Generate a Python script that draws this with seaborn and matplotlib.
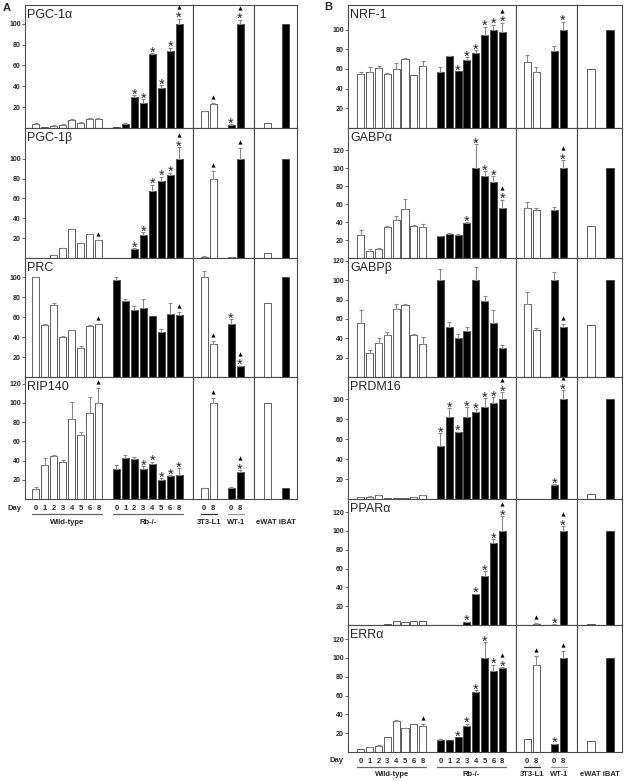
import matplotlib
matplotlib.use("Agg")
import matplotlib.pyplot as plt
import matplotlib.transforms as mtransforms
import numpy as np
import pandas as pd
import seaborn as sns

# bar order in every panel:
# Wild-type d0..d8 (8), Rb-/- d0..d8 (8), 3T3-L1 d0/d8, WT-1 d0/d8, eWAT, iBAT
DAYS = ["0", "1", "2", "3", "4", "5", "6", "8"]
CELL_DAYS = ["0", "8", "0", "8"]
TISSUES = ["eWAT", "iBAT"]

# significance marks: s = star, t = triangle
PGC1A = [4, 1, 2, 3, 8, 5, 9, 9, 1, 4, 30, 24, 71, 38, 74, 100, 16, 23, 3, 100, 5, 100]
PGC1A_ERR = [1, 0, 0.5, 0.5, 0.5, 1, 0.5, 0.5, 0, 0.5, 1.5, 4, 0.5, 3, 3, 5, 0.5, 1, 0.5, 4, 0, 0]
PGC1A_SIG = [""] * 8 + ["", "", "s", "s", "s", "s", "s", "st"] + ["", "t", "s", "st", "", ""]

PGC1B = [0.3, 0.5, 3, 10, 29, 15, 24, 18, 0.2, 0.2, 9, 23, 68, 78, 84, 100, 1.5, 80, 1, 100, 5, 100]
PGC1B_ERR = [0, 0, 0.5, 0.5, 0.5, 0.5, 0.5, 0.5, 0, 0, 1, 3, 6, 4, 2, 12, 0.5, 8, 0.5, 11, 0, 0]
PGC1B_SIG = [""] * 7 + ["t"] + ["", "", "s", "s", "s", "s", "s", "st"] + ["", "t", "", "t", "", ""]

PRC = [100, 52, 72, 40, 47, 29, 51, 53, 97, 76, 67, 69, 61, 45, 63, 62, 100, 33, 53, 11, 74, 100]
PRC_ERR = [0.5, 1, 2, 1, 0.5, 2, 1, 0.5, 3, 2, 4, 9, 0, 3, 11, 3, 6, 3, 5, 0.5, 0, 0]
PRC_SIG = [""] * 7 + ["t"] + [""] * 7 + ["t"] + ["", "t", "s", "st", "", ""]

RIP140 = [10, 35, 45, 39, 83, 67, 90, 100, 31, 43, 42, 31, 36, 20, 24, 25, 11, 100, 11, 28, 100, 11]
RIP140_ERR = [2, 8, 1, 2, 18, 3, 16, 16, 4, 3, 2, 3, 3, 1.5, 0.5, 7, 0.5, 5, 1, 2, 0, 0]
RIP140_SIG = [""] * 7 + ["t"] + ["", "", "", "s", "s", "s", "s", "s"] + ["", "t", "", "st", "", ""]

NRF1 = [55, 57, 61, 55, 60, 70, 54, 63, 57, 73, 58, 69, 76, 95, 100, 98, 67, 57, 78, 100, 60, 100]
NRF1_ERR = [2, 5, 2, 1, 6, 1, 0, 5, 5, 0.5, 0, 3, 3, 8, 5, 9, 7, 5, 5, 8, 0, 0]
NRF1_SIG = [""] * 8 + ["", "", "s", "s", "s", "s", "s", "st"] + ["", "", "", "s", "", ""]

GABPA = [26, 8, 10, 35, 42, 55, 36, 35, 24, 27, 26, 39, 100, 92, 85, 56, 56, 54, 54, 100, 36, 100]
GABPA_ERR = [5, 2, 1, 1, 5, 11, 1, 3, 0.5, 0.5, 0.5, 1, 27, 5, 6, 9, 6, 2, 3, 9, 0, 0]
GABPA_SIG = [""] * 8 + ["", "", "", "s", "s", "s", "s", "st"] + ["", "", "", "st", "", ""]

GABPB = [56, 25, 35, 43, 70, 74, 43, 34, 100, 52, 40, 48, 100, 79, 56, 30, 75, 49, 100, 52, 54, 100]
GABPB_ERR = [13, 3, 5, 4, 5, 1, 1, 7, 12, 5, 4, 4, 14, 5, 13, 3, 13, 2, 9, 3, 0, 0]
GABPB_SIG = [""] * 16 + ["", "", "", "t", "", ""]

PRDM16 = [2, 2.5, 4, 1, 1.5, 1, 2, 4, 53, 82, 67, 82, 87, 92, 96, 100, 0.3, 0.3, 14, 100, 5, 100]
PRDM16_ERR = [0.3, 0.3, 0.5, 0, 0, 0, 0.3, 0.5, 13, 9, 0.5, 10, 3, 9, 6, 7, 0, 0, 1, 9, 0, 0]
PRDM16_SIG = [""] * 8 + ["s"] * 7 + ["st"] + ["", "", "s", "st", "", ""]

PPARA = [0.2, 0.2, 0.3, 1, 4, 3, 4, 4, 0, 0, 0.5, 3, 33, 52, 87, 100, 0.3, 1.5, 0.5, 100, 1.5, 100]
PPARA_ERR = [0] * 8 + [0, 0, 0, 0.5, 0.5, 5, 4, 16, 0, 0.5, 0.3, 5, 0, 0]
PPARA_SIG = [""] * 8 + ["", "", "", "s", "s", "s", "s", "st"] + ["", "t", "s", "st", "", ""]

ERRA = [3, 5, 6, 16, 33, 25, 30, 28, 13, 13, 16, 28, 64, 100, 86, 89, 14, 92, 8, 100, 12, 100]
ERRA_ERR = [0, 0.5, 1.5, 0, 0.5, 0.5, 0, 2, 0.5, 0, 0, 2, 2, 17, 7, 1, 0, 10, 1, 7, 0, 0]
ERRA_SIG = [""] * 7 + ["t"] + ["", "", "s", "s", "s", "s", "s", "st"] + ["", "t", "s", "t", "", ""]

W, H = 625, 781
FILL = {"w": "white", "k": "black"}
MAIN_X = list(range(8)) + list(range(9, 17))
CELL_X = [0, 1, 3, 4]
TISSUE_X = [0, 2]

sns.set_theme(style="ticks")
plt.rcParams["font.family"] = ["Liberation Sans", "DejaVu Sans"]

fig = plt.figure(figsize=(W / 100, H / 100), dpi=100)


def px_rect(l, t, r, b):
    return [l / W, 1 - b / H, (r - l) / W, (b - t) / H]


def bars(ax, x, vals, errs, sig, fills, width):
    df = pd.DataFrame({"x": x, "y": vals, "fill": fills})
    sns.barplot(data=df, x="x", y="y", hue="fill", palette=FILL, native_scale=True,
                dodge=False, width=width, saturation=1, errorbar=None, legend=False,
                edgecolor="#444444", linewidth=0.6, ax=ax)
    x = np.asarray(x, float)
    vals = np.asarray(vals, float)
    errs = np.asarray(errs, float)
    has = errs > 0
    ax.errorbar(x[has], vals[has], yerr=[np.zeros(has.sum()), errs[has]], fmt="none",
                ecolor="#8a8a8a", elinewidth=0.8, capsize=1.6, capthick=0.8, zorder=3)
    for xi, v, e, s in zip(x, vals, errs, sig):
        top = v + e
        off = 6
        if "s" in s:
            ax.annotate("*", (xi, top), xytext=(0, -3.5), textcoords="offset pixels",
                        ha="center", va="baseline", fontsize=10.5, annotation_clip=False)
            off = 12
        if "t" in s:
            tr = mtransforms.offset_copy(ax.transData, fig=fig, x=0, y=off, units="dots")
            ax.plot([xi], [top], marker="^", ms=3, color="black", mew=0,
                    transform=tr, clip_on=False)


def frame(ax, ymax, yticks=None):
    ax.set_xlabel("")
    ax.set_ylabel("")
    ax.set_ylim(0, ymax)
    ax.set_facecolor("white")
    for sp in ax.spines.values():
        sp.set_visible(True)
        sp.set_color("#4a4a4a")
        sp.set_linewidth(0.8)
    ax.set_xticks([])
    if yticks is None:
        ax.set_yticks([])
    else:
        ax.set_yticks(yticks)
        ax.set_yticklabels([str(t) for t in yticks], fontsize=5, fontweight="bold")
        ax.tick_params(axis="y", length=2, width=0.6, color="#555555", pad=1)


def label_below(ax, x, text, dy, **kw):
    ax.annotate(text, xy=(x, 0), xycoords=("data", "axes fraction"), xytext=(0, -dy),
                textcoords="offset pixels", ha="center", va="center",
                fontsize=5.5, fontweight="bold", annotation_clip=False, **kw)


def underline(ax, x0, x1, dy, color="#666666"):
    tr = mtransforms.offset_copy(ax.get_xaxis_transform(), fig=fig, x=0, y=-dy, units="dots")
    ax.plot([x0, x1], [0, 0], color=color, lw=0.9, transform=tr, clip_on=False)


def panel(rows, cols, main_xlim, letter, letter_xy):
    l, c1, c2, r = cols
    n = len(rows)
    for i, (title, vals, errs, sig, ymax, yticks, top, bot) in enumerate(rows):
        ax_m = fig.add_axes(px_rect(l, top, c1, bot))
        ax_c = fig.add_axes(px_rect(c1, top, c2, bot))
        ax_t = fig.add_axes(px_rect(c2, top, r, bot))
        bars(ax_m, MAIN_X, vals[:16], errs[:16], sig[:16], ["w"] * 8 + ["k"] * 8, 0.8)
        bars(ax_c, CELL_X, vals[16:20], errs[16:20], sig[16:20], ["w", "w", "k", "k"], 0.8)
        bars(ax_t, TISSUE_X, vals[20:], errs[20:], sig[20:], ["w", "k"], 0.4)
        frame(ax_m, ymax, yticks)
        frame(ax_c, ymax)
        frame(ax_t, ymax)
        ax_m.set_xlim(*main_xlim)
        ax_c.set_xlim(-1.25, 5.55)
        ax_t.set_xlim(-1.5, 3.3)
        ax_m.annotate(title, xy=(0, 1), xycoords="axes fraction", xytext=(2, -4),
                      textcoords="offset pixels", ha="left", va="top", fontsize=9)
        if i == n - 1:
            ax_m.set_xticks(MAIN_X)
            ax_m.set_xticklabels(DAYS * 2, fontsize=5.5, fontweight="bold")
            ax_c.set_xticks(CELL_X)
            ax_c.set_xticklabels(CELL_DAYS, fontsize=5.5, fontweight="bold")
            for a in (ax_m, ax_c):
                a.tick_params(axis="x", length=0, pad=4.2)
            ax_m.annotate("Day", xy=(0, 0), xycoords="axes fraction", xytext=(-11, -9),
                          textcoords="offset pixels", ha="center", va="center",
                          fontsize=5.5, fontweight="bold", annotation_clip=False)
            underline(ax_m, -0.4, 7.4, 15)
            underline(ax_m, 8.6, 16.4, 15)
            underline(ax_c, -0.4, 1.4, 15, color="#333333")
            underline(ax_c, 2.6, 4.4, 15, color="#999999")
            label_below(ax_m, 3.5, "Wild-type", 23)
            label_below(ax_m, 12.5, "Rb-/-", 23)
            label_below(ax_c, 0.5, "3T3-L1", 23)
            label_below(ax_c, 3.5, "WT-1", 23)
            label_below(ax_t, 1, " ".join(TISSUES), 23)
    fig.text(letter_xy[0] / W, 1 - letter_xy[1] / H, letter, fontsize=8,
             fontweight="bold", ha="center", va="center")


t100 = [20, 40, 60, 80, 100]
t120 = [20, 40, 60, 80, 100, 120]

rows_a = [
    ("PGC-1α", PGC1A, PGC1A_ERR, PGC1A_SIG, 118, t100, 5, 128),
    ("PGC-1β", PGC1B, PGC1B_ERR, PGC1B_SIG, 131, t100, 128, 258),
    ("PRC", PRC, PRC_ERR, PRC_SIG, 119, t100, 258, 377),
    ("RIP140", RIP140, RIP140_ERR, RIP140_SIG, 127, t120, 377, 499),
]
rows_b = [
    ("NRF-1", NRF1, NRF1_ERR, NRF1_SIG, 125, t100, 5, 128),
    ("GABPα", GABPA, GABPA_ERR, GABPA_SIG, 145, t120, 128, 258),
    ("GABPβ", GABPB, GABPB_ERR, GABPB_SIG, 123, t120, 258, 377),
    ("PRDM16", PRDM16, PRDM16_ERR, PRDM16_SIG, 122, t100, 377, 499),
    ("PPARα", PPARA, PPARA_ERR, PPARA_SIG, 134, t120, 499, 625),
    ("ERRα", ERRA, ERRA_ERR, ERRA_SIG, 135, t120, 625, 752),
]

panel(rows_a, (25, 193, 254, 297), (-1.2, 17.55), "A", (7, 8))
panel(rows_b, (348, 516, 577, 622), (-1.45, 17.55), "B", (328, 7))

fig.savefig("out.png", dpi=100, facecolor="white")
